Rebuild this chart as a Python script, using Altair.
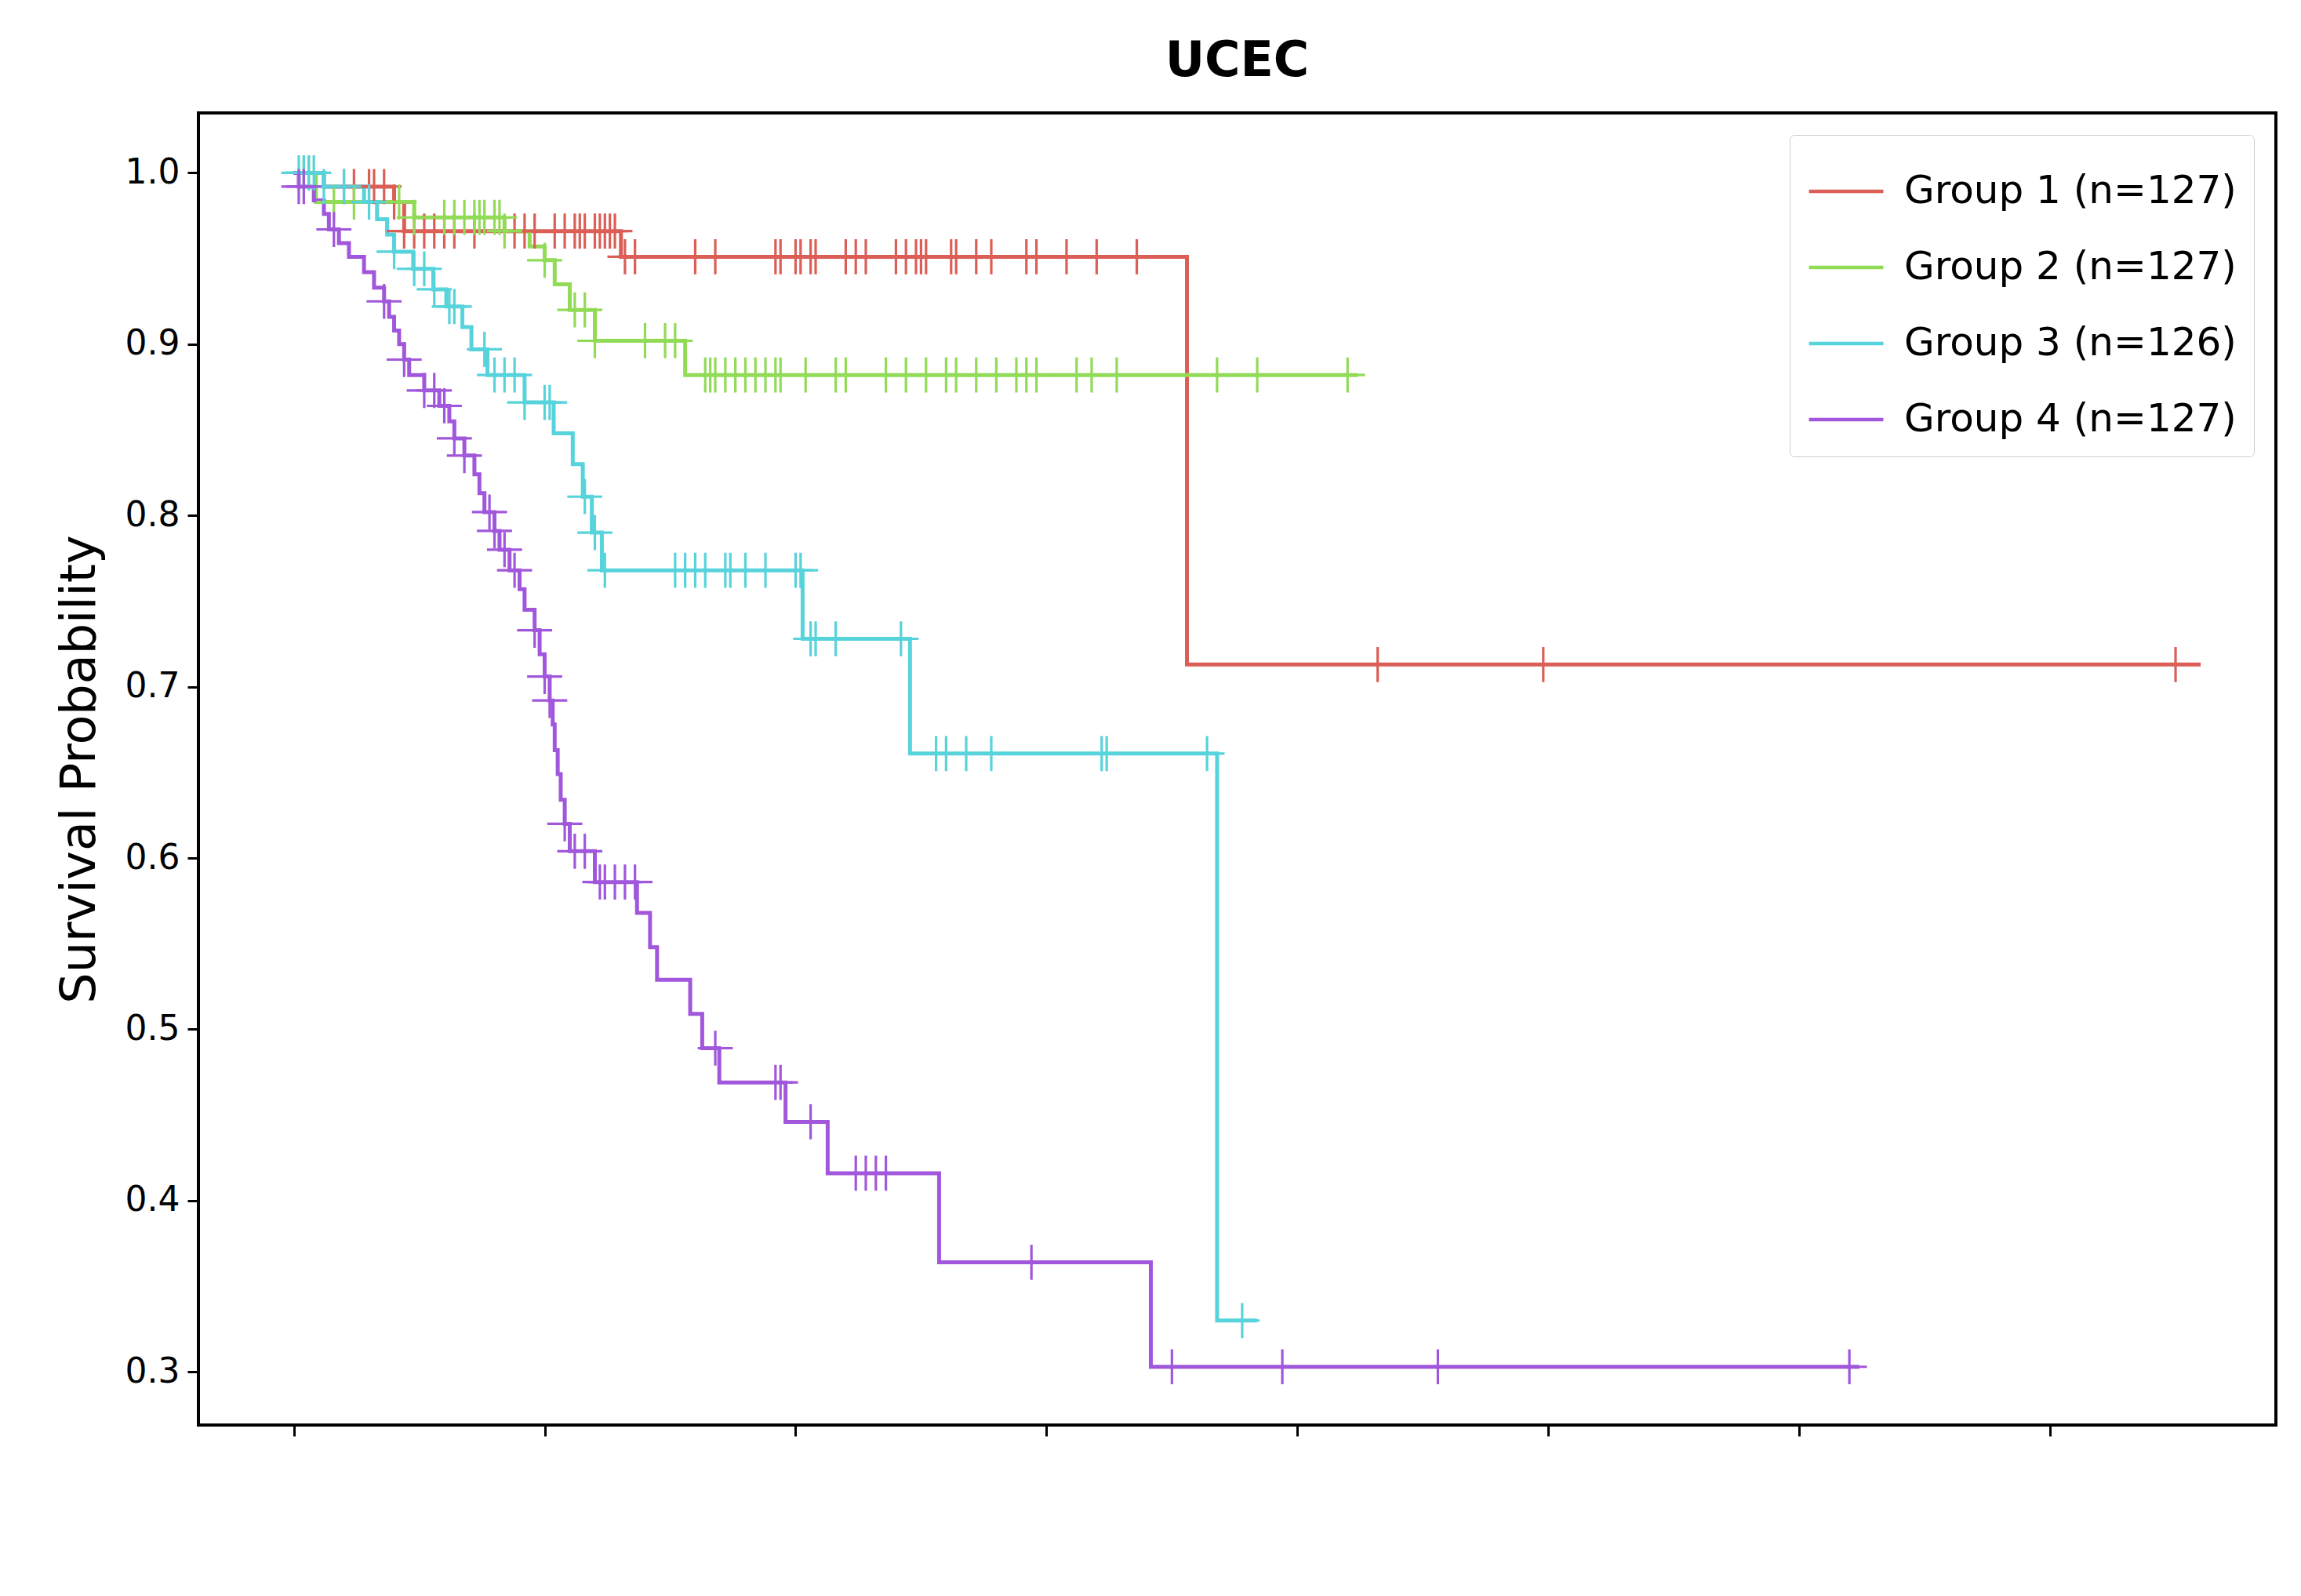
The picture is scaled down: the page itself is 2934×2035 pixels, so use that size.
import altair as alt
import pandas as pd

groups = ["Group 1 (n=127)", "Group 2 (n=127)", "Group 3 (n=126)", "Group 4 (n=127)"]
colors = ["#db5f57", "#91db57", "#57d3db", "#a157db"]

# step changes (time in years, survival after the drop)
g1_steps = [(0, 1.0), (0.3, 0.992), (1.0, 0.983), (1.1, 0.966), (3.26, 0.951), (8.9, 0.713)]
g1_end = 19.0
g1_cens = [0.5, 0.6, 0.75, 0.8, 0.9, 1.0, 1.1, 1.2, 1.3, 1.4, 1.5, 1.6, 1.8, 2.2, 2.3, 2.4, 2.6, 2.7,
           2.8, 2.85, 2.9, 3.0, 3.05, 3.1, 3.15, 3.2, 3.3, 3.4, 4.0, 4.2, 4.8, 4.85, 5.0, 5.05, 5.15,
           5.2, 5.5, 5.6, 5.7, 6.0, 6.1, 6.2, 6.25, 6.3, 6.55, 6.6, 6.8, 6.95, 7.3, 7.4, 7.7, 8.0,
           8.4, 10.8, 12.45, 18.75]

g2_steps = [(0, 1.0), (0.22, 0.983), (1.2, 0.974), (2.1, 0.966), (2.35, 0.957), (2.5, 0.949),
            (2.6, 0.935), (2.75, 0.92), (3.0, 0.902), (3.9, 0.882)]
g2_end = 10.6
g2_cens = [0.1, 0.15, 0.4, 0.6, 1.05, 1.2, 1.5, 1.6, 1.7, 1.8, 1.85, 1.9, 2.0, 2.05, 2.1, 2.5, 2.8,
           2.9, 3.0, 3.5, 3.7, 3.8, 4.1, 4.15, 4.2, 4.3, 4.4, 4.5, 4.6, 4.7, 4.8, 4.85, 5.1, 5.4,
           5.5, 5.9, 6.1, 6.3, 6.5, 6.6, 6.8, 7.0, 7.2, 7.3, 7.4, 7.8, 7.95, 8.2, 9.2, 9.6, 10.5]

g3_steps = [(0, 1.0), (0.3, 0.992), (0.7, 0.983), (0.83, 0.973), (0.93, 0.964), (1.0, 0.954),
            (1.19, 0.944), (1.39, 0.932), (1.52, 0.922), (1.68, 0.91), (1.77, 0.897),
            (1.93, 0.882), (2.3, 0.866), (2.59, 0.848), (2.78, 0.83), (2.88, 0.811),
            (2.97, 0.79), (3.07, 0.768), (5.07, 0.728), (6.14, 0.661), (9.2, 0.33)]
g3_end = 9.6
g3_cens = [0.05, 0.1, 0.15, 0.2, 0.3, 0.5, 0.75, 1.0, 1.2, 1.3, 1.4, 1.55, 1.6, 1.9, 2.0, 2.1,
           2.2, 2.3, 2.5, 2.55, 2.9, 3.0, 3.1, 3.8, 3.9, 4.0, 4.1, 4.3, 4.35, 4.5, 4.7, 5.0,
           5.05, 5.15, 5.2, 5.4, 6.05, 6.4, 6.5, 6.7, 6.95, 8.05, 8.1, 9.1, 9.45]

g4_steps = [(0, 1.0), (0.05, 0.992), (0.2, 0.984), (0.3, 0.976), (0.35, 0.967), (0.45, 0.959),
            (0.55, 0.951), (0.7, 0.942), (0.8, 0.933), (0.9, 0.925), (0.95, 0.916), (1.0, 0.908),
            (1.05, 0.9), (1.1, 0.891), (1.15, 0.882), (1.3, 0.873), (1.45, 0.864), (1.55, 0.855),
            (1.6, 0.845), (1.7, 0.835), (1.8, 0.824), (1.85, 0.813), (1.9, 0.802), (2.0, 0.791),
            (2.05, 0.78), (2.15, 0.768), (2.25, 0.757), (2.3, 0.745), (2.4, 0.733), (2.45, 0.719),
            (2.5, 0.706), (2.55, 0.692), (2.58, 0.678), (2.6, 0.663), (2.63, 0.649), (2.66, 0.634),
            (2.7, 0.62), (2.75, 0.604), (3.0, 0.586), (3.42, 0.568), (3.55, 0.548), (3.62, 0.529),
            (3.95, 0.509), (4.07, 0.489), (4.24, 0.469), (4.9, 0.446), (5.32, 0.416),
            (6.43, 0.364), (8.54, 0.303)]
g4_end = 15.6
g4_cens = [0.05, 0.1, 0.4, 0.9, 1.1, 1.3, 1.4, 1.5, 1.6, 1.7, 1.95, 2.0, 2.1, 2.2, 2.4, 2.5, 2.55,
           2.7, 2.8, 2.9, 3.05, 3.1, 3.2, 3.3, 3.4, 4.2, 4.8, 4.85, 5.15, 5.6, 5.7, 5.8, 5.9, 7.35,
           8.75, 9.85, 11.4, 15.5]

all_steps = [g1_steps, g2_steps, g3_steps, g4_steps]
all_ends = [g1_end, g2_end, g3_end, g4_end]
all_cens = [g1_cens, g2_cens, g3_cens, g4_cens]


def surv_at(steps, t):
    s = steps[0][1]
    for tt, v in steps:
        if tt <= t:
            s = v
    return s


line_rows, cens_rows = [], []
for g, steps, end, cens in zip(groups, all_steps, all_ends, all_cens):
    for t, v in steps:
        line_rows.append({"group": g, "t": t, "s": v})
    line_rows.append({"group": g, "t": end, "s": steps[-1][1]})
    for t in cens:
        cens_rows.append({"group": g, "t": t, "s": surv_at(steps, t)})

lines = pd.DataFrame(line_rows)
censors = pd.DataFrame(cens_rows)

color = alt.Color("group:N", scale=alt.Scale(domain=groups, range=colors),
                  legend=alt.Legend(title=None, orient="top-right", symbolType="stroke",
                                    symbolStrokeWidth=4.5, symbolSize=9000, labelFontSize=50,
                                    labelFont="DejaVu Sans", fillColor="white",
                                    strokeColor="#cccccc", padding=22, rowPadding=22,
                                    cornerRadius=6, offset=28, labelLimit=900, labelOffset=24))
x = alt.X("t:Q", title="Time (in years)",
          scale=alt.Scale(domain=[-0.95, 19.75], nice=False, zero=False),
          axis=alt.Axis(values=[0, 2.5, 5, 7.5, 10, 12.5, 15, 17.5], format=".1f", grid=False))
y = alt.Y("s:Q", title="Survival Probability",
          scale=alt.Scale(domain=[0.269, 1.035], nice=False, zero=False),
          axis=alt.Axis(values=[0.3, 0.4, 0.5, 0.6, 0.7, 0.8, 0.9, 1.0], format=".1f", grid=False))

curve = alt.Chart(lines).mark_line(interpolate="step-after", strokeWidth=5).encode(
    x=x, y=y, color=color, detail="group:N")
marks = alt.Chart(censors).mark_point(shape="M0,-1V1M-1,0H1", size=2000, strokeWidth=3.2,
                                      filled=False, opacity=1).encode(
    x="t:Q", y="s:Q", color=alt.Color("group:N", scale=alt.Scale(domain=groups, range=colors),
                                      legend=None))

chart = alt.layer(curve, marks).properties(
    width=2649, height=1673,
    autosize=alt.AutoSizeParams(type="none"),
    padding={"left": 245, "top": 136, "right": 20, "bottom": 20},
    title=alt.TitleParams("UCEC", fontSize=62, fontWeight="bold", font="DejaVu Sans", offset=34),
).configure_view(stroke="black", strokeWidth=4).configure_axis(
    labelFont="DejaVu Sans", titleFont="DejaVu Sans", labelFontSize=44, titleFontSize=62,
    titleFontWeight="normal", labelColor="black", titleColor="black", domain=False,
    tickColor="black", tickSize=14, tickWidth=3, labelPadding=10, titlePadding=16,
).configure_axisY(titlePadding=26)

chart.save("out.html", embed_options={"renderer": "svg", "actions": False})
